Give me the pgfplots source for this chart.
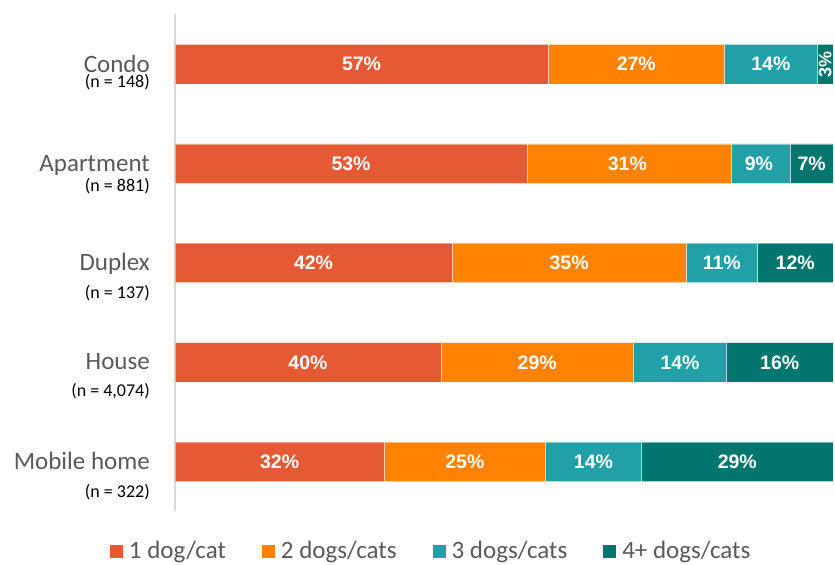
\documentclass[border=0pt]{standalone}
\usepackage{pgfplots}
\pgfplotsset{compat=1.18}
\usepackage{pgfplotstable}
\usepackage{fontspec}
\setmainfont{Carlito}
\newfontfamily\barfont{Liberation Sans}
\definecolor{c1}{RGB}{229,90,53}
\definecolor{c2}{RGB}{255,130,0}
\definecolor{c3}{RGB}{34,160,168}
\definecolor{c4}{RGB}{0,118,110}
\definecolor{lbl}{RGB}{89,89,89}
\definecolor{axgray}{RGB}{217,217,217}

\pgfplotstableread{
y a b c d
4 56.7 26.8 14.1 2.4
3 53.5 31.0 9.0 6.5
2 42.1 35.6 10.8 11.5
1 40.4 29.3 14.1 16.2
0 31.8 24.5 14.6 29.1
}\data

\newcommand{\catfont}{\fontsize{25bp}{30bp}\selectfont}
\newcommand{\nfont}{\fontsize{18bp}{22bp}\selectfont}
\newcommand{\barlab}{\barfont\bfseries\fontsize{19.5bp}{23bp}\selectfont}
\newcommand{\barlabs}{\barfont\bfseries\fontsize{18bp}{21bp}\selectfont}
\tikzset{bl/.style={font=\barlab, text=white, inner sep=0pt},
         cl/.style={anchor=base east, inner sep=0pt}}

\begin{document}
\begin{tikzpicture}[x=1bp,y=1bp]
\useasboundingbox (0,0) rectangle (835,565);
\begin{axis}[
  at={(175bp,53.5bp)}, anchor=south west,
  scale only axis, width=658bp, height=497bp,
  xbar stacked, bar width=39.5bp,
  xmin=0, xmax=100, ymin=-0.5, ymax=4.5,
  axis x line=none, axis y line=left,
  y axis line style={-, draw=axgray, line width=1.5bp},
  ytick=\empty, xtick=\empty,
  clip=false,
  legend columns=4,
  legend cell align=left,
  legend image code/.code={\fill[#1, draw=none] (0bp,-6.5bp) rectangle (13bp,6.5bp);},
  legend style={at={(axis description cs:-0.0988,-0.0795)}, anchor=west,
    draw=none, fill=none, inner sep=0pt, outer sep=0pt,
    font=\catfont, text=lbl,
    nodes={inner sep=0pt},
    /tikz/every odd column/.append style={column sep=6bp},
    /tikz/every even column/.append style={column sep=36bp}},
  after end axis/.code={
    % Condo
    \node[bl] at (axis cs:28.35,4) {57\%};
    \node[bl] at (axis cs:70.1,4) {27\%};
    \node[bl] at (axis cs:90.55,4) {14\%};
    \node[bl, rotate=90, font=\barlabs] at (axis cs:98.8,4) {3\%};
    % Apartment
    \node[bl] at (axis cs:26.75,3) {53\%};
    \node[bl] at (axis cs:68.75,3) {31\%};
    \node[bl] at (axis cs:88.75,3) {9\%};
    \node[bl] at (axis cs:96.75,3) {7\%};
    % Duplex
    \node[bl] at (axis cs:21.05,2) {42\%};
    \node[bl] at (axis cs:59.9,2) {35\%};
    \node[bl] at (axis cs:83.1,2) {11\%};
    \node[bl] at (axis cs:94.25,2) {12\%};
    % House
    \node[bl] at (axis cs:20.2,1) {40\%};
    \node[bl] at (axis cs:55.05,1) {29\%};
    \node[bl] at (axis cs:76.75,1) {14\%};
    \node[bl] at (axis cs:91.9,1) {16\%};
    % Mobile home
    \node[bl] at (axis cs:15.9,0) {32\%};
    \node[bl] at (axis cs:44.05,0) {25\%};
    \node[bl] at (axis cs:63.6,0) {14\%};
    \node[bl] at (axis cs:85.45,0) {29\%};
  },
]
\addplot[fill=c1, draw=white, draw opacity=0.45, line width=0.6bp] table[x=a,y=y] {\data};
\addplot[fill=c2, draw=white, draw opacity=0.45, line width=0.6bp] table[x=b,y=y] {\data};
\addplot[fill=c3, draw=white, draw opacity=0.45, line width=0.6bp] table[x=c,y=y] {\data};
\addplot[fill=c4, draw=white, draw opacity=0.45, line width=0.6bp] table[x=d,y=y] {\data};
\legend{1 dog/cat, 2 dogs/cats, 3 dogs/cats, 4+ dogs/cats}
\end{axis}

\node[cl, font=\catfont, text=lbl] at (150,492) {Condo};
\node[cl, font=\nfont] at (150,477) {(n = 148)};
\node[cl, font=\catfont, text=lbl] at (150,393) {Apartment};
\node[cl, font=\nfont] at (150,373.3) {(n = 881)};
\node[cl, font=\catfont, text=lbl] at (150,294.3) {Duplex};
\node[cl, font=\nfont] at (150,266) {(n = 137)};
\node[cl, font=\catfont, text=lbl] at (150,195) {House};
\node[cl, font=\nfont] at (150,168) {(n = 4,074)};
\node[cl, font=\catfont, text=lbl] at (150,95.7) {Mobile home};
\node[cl, font=\nfont] at (150,67) {(n = 322)};
\end{tikzpicture}
\end{document}
